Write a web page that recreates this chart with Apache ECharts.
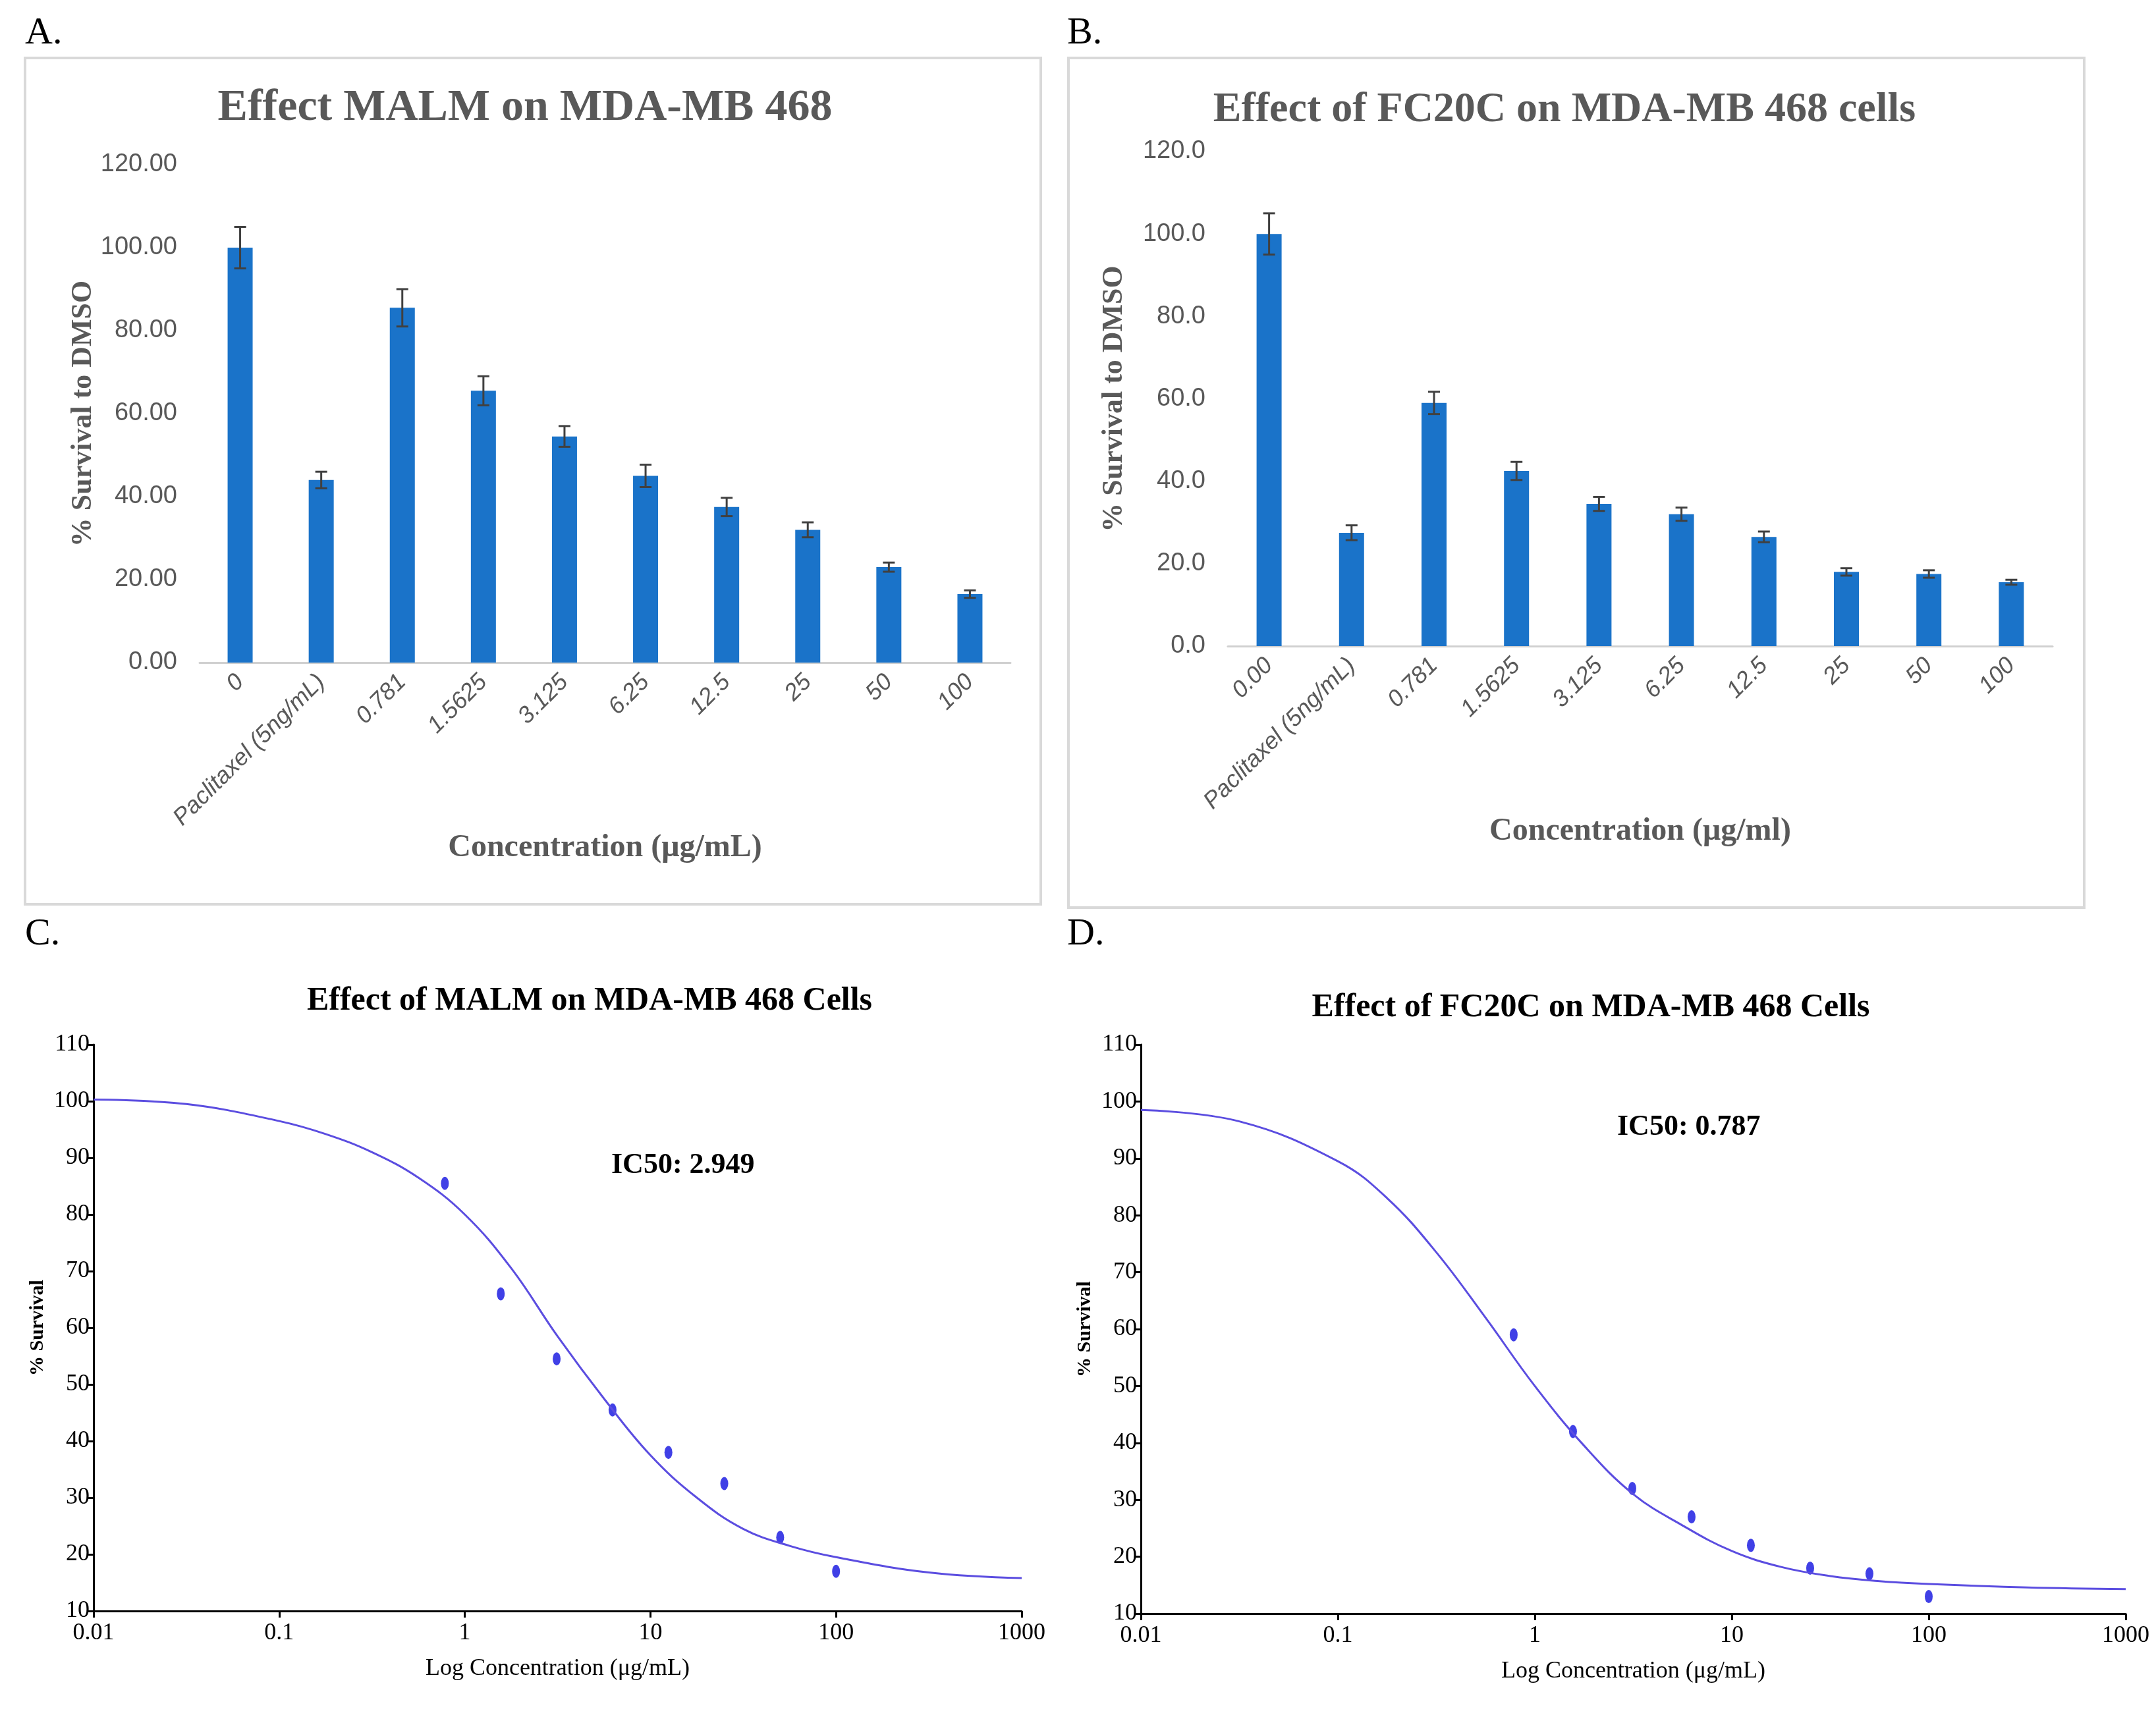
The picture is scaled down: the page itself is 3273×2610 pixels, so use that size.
<!DOCTYPE html>
<html>
<head>
<meta charset="utf-8">
<script src="https://cdn.jsdelivr.net/npm/echarts@6/dist/echarts.min.js"></script>
<style>html,body{margin:0;padding:0;background:#fff}#chart{width:3273px;height:2610px}</style>
</head>
<body>
<div id="chart"></div>
<script>
// bar panels
var catsA = ['0','Paclitaxel (5ng/mL)','0.781','1.5625','3.125','6.25','12.5','25','50','100'];
var catsB = ['0.00','Paclitaxel (5ng/mL)','0.781','1.5625','3.125','6.25','12.5','25','50','100'];
var valsA = [100, 44, 85.5, 65.5, 54.5, 45, 37.5, 32, 23, 16.5];
var errA  = [5, 2, 4.5, 3.5, 2.5, 2.7, 2.2, 1.8, 1.1, 0.9];
var valsB = [100, 27.5, 59, 42.5, 34.5, 32, 26.5, 18, 17.5, 15.5];
var errB  = [5, 1.8, 2.7, 2.2, 1.7, 1.6, 1.3, 0.9, 0.9, 0.6];
// dose-response panels
var conc   = [0.781, 1.5625, 3.125, 6.25, 12.5, 25, 50, 100];
var survC  = [85.5, 66, 54.5, 45.5, 38, 32.5, 23, 17];
var survD  = [59, 42, 32, 27, 22, 18, 17, 13];
var curveX = [0.01, 0.0316, 0.1, 0.178, 0.316, 0.562, 1, 1.78, 3.16, 5.62, 10, 17.8, 31.6, 56.2, 100, 316, 1000];
var curveC = [100.3, 99.5, 96.5, 94.2, 91, 86.5, 80, 70.5, 58.5, 47.5, 37.5, 30, 24.5, 21.5, 19.5, 16.8, 15.8];
var curveD = [98.5, 96.5, 89.5, 83, 73.5, 62, 50, 39.5, 31, 25.5, 21, 18.2, 16.6, 15.7, 15.2, 14.6, 14.3];

var serif = 'Liberation Serif';
var chart = echarts.init(document.getElementById('chart'));

function errSeries(xi, yi, vals, errs) {
  return {
    type: 'custom', xAxisIndex: xi, yAxisIndex: yi, z: 5,
    data: vals.map(function (v, i) { return [i, v - errs[i], v + errs[i]]; }),
    renderItem: function (params, api) {
      var lo = api.coord([api.value(0), api.value(1)]);
      var hi = api.coord([api.value(0), api.value(2)]);
      var w = 9, st = {stroke: '#404040', lineWidth: 3};
      return {type: 'group', children: [
        {type: 'line', shape: {x1: hi[0], y1: hi[1], x2: lo[0], y2: lo[1]}, style: st},
        {type: 'line', shape: {x1: hi[0] - w, y1: hi[1], x2: hi[0] + w, y2: hi[1]}, style: st},
        {type: 'line', shape: {x1: lo[0] - w, y1: lo[1], x2: lo[0] + w, y2: lo[1]}, style: st}
      ]};
    }
  };
}

function catAxis(gi, cats, name) {
  return {type: 'category', gridIndex: gi, data: cats,
    axisLine: {lineStyle: {color: '#d0d0d0', width: 3}}, axisTick: {show: false},
    axisLabel: {rotate: 45, fontSize: 36, color: '#595959', fontStyle: 'italic', fontFamily: 'Liberation Sans', margin: 24},
    name: name, nameLocation: 'middle', nameGap: 255,
    nameTextStyle: {fontSize: 48, fontWeight: 'bold', color: '#595959', fontFamily: serif}};
}
function valAxis(gi, dec, name) {
  return {type: 'value', gridIndex: gi, min: 0, max: 120, interval: 20,
    axisLine: {show: false}, axisTick: {show: false}, splitLine: {show: false},
    axisLabel: {fontSize: 38, color: '#595959', fontFamily: 'Liberation Sans', margin: 34,
      formatter: function (v) { return v.toFixed(dec); }},
    name: name, nameLocation: 'middle', nameGap: 150, nameRotate: 90,
    nameTextStyle: {fontSize: 44, fontWeight: 'bold', color: '#595959', fontFamily: serif}};
}
function logAxis(gi) {
  return {type: 'log', gridIndex: gi, logBase: 10, min: 0.01, max: 1000,
    axisLine: {lineStyle: {color: '#000', width: 3}}, axisTick: {length: 10, lineStyle: {width: 3}},
    splitLine: {show: false}, minorTick: {show: false},
    axisLabel: {fontSize: 36, color: '#000', fontFamily: serif, margin: 16, formatter: function (v) { return String(v); }},
    name: 'Log Concentration (μg/mL)', nameLocation: 'middle', nameGap: 70,
    nameTextStyle: {fontSize: 36, color: '#000', fontFamily: serif}};
}
function survAxis(gi) {
  return {type: 'value', gridIndex: gi, min: 10, max: 110, interval: 10,
    axisLine: {show: true, lineStyle: {color: '#000', width: 3}}, axisTick: {show: true, length: 10, lineStyle: {width: 3}},
    splitLine: {show: false},
    axisLabel: {fontSize: 36, color: '#000', fontFamily: serif, margin: 6},
    name: '% Survival', nameLocation: 'middle', nameGap: 70, nameRotate: 90,
    nameTextStyle: {fontSize: 30, fontWeight: 'bold', color: '#000', fontFamily: serif}};
}

var bar = {color: '#1a73c9'};
var dot = {color: '#1010e0'};
chart.setOption({
  backgroundColor: '#fff',
  animation: false,
  title: [
    {text: 'Effect MALM on MDA-MB 468', left: 792, top: 125, textAlign: 'center',
      textStyle: {fontSize: 68, fontWeight: 'bold', color: '#595959', fontFamily: serif}},
    {text: 'Effect of FC20C on MDA-MB 468 cells', left: 2370, top: 130, textAlign: 'center',
      textStyle: {fontSize: 64, fontWeight: 'bold', color: '#595959', fontFamily: serif}},
    {text: 'Effect of MALM on MDA-MB 468 Cells', left: 890, top: 1490, textAlign: 'center',
      textStyle: {fontSize: 50, fontWeight: 'bold', color: '#000', fontFamily: serif}},
    {text: 'Effect of FC20C on MDA-MB 468 Cells', left: 2410, top: 1500, textAlign: 'center',
      textStyle: {fontSize: 50, fontWeight: 'bold', color: '#000', fontFamily: serif}}
  ],
  graphic: [
    {type: 'rect', shape: {x: 38, y: 88, width: 1542, height: 1285}, style: {fill: 'none', stroke: '#d9d9d9', lineWidth: 4}},
    {type: 'rect', shape: {x: 1622, y: 88, width: 1542, height: 1290}, style: {fill: 'none', stroke: '#d9d9d9', lineWidth: 4}},
    {type: 'text', x: 38, y: 22, style: {text: 'A.', fontSize: 58, fontFamily: serif, fill: '#000'}},
    {type: 'text', x: 1620, y: 22, style: {text: 'B.', fontSize: 58, fontFamily: serif, fill: '#000'}},
    {type: 'text', x: 38, y: 1390, style: {text: 'C.', fontSize: 58, fontFamily: serif, fill: '#000'}},
    {type: 'text', x: 1620, y: 1390, style: {text: 'D.', fontSize: 58, fontFamily: serif, fill: '#000'}},
    {type: 'text', x: 928, y: 1748, style: {text: 'IC50: 2.949', fontSize: 44, fontWeight: 'bold', fontFamily: serif, fill: '#000'}},
    {type: 'text', x: 2455, y: 1690, style: {text: 'IC50: 0.787', fontSize: 44, fontWeight: 'bold', fontFamily: serif, fill: '#000'}}
  ],
  grid: [
    {left: 303, top: 250, width: 1231, height: 756},
    {left: 1864, top: 230, width: 1252, height: 751},
    {left: 142, top: 1586, width: 1409, height: 860},
    {left: 1732, top: 1586, width: 1495, height: 864}
  ],
  xAxis: [catAxis(0, catsA, 'Concentration (μg/mL)'), catAxis(1, catsB, 'Concentration (μg/ml)'), logAxis(2), logAxis(3)],
  yAxis: [valAxis(0, 2, '% Survival to DMSO'), valAxis(1, 1, '% Survival to DMSO'), survAxis(2), survAxis(3)],
  series: [
    {type: 'bar', xAxisIndex: 0, yAxisIndex: 0, data: valsA, barWidth: 38, itemStyle: bar},
    errSeries(0, 0, valsA, errA),
    {type: 'bar', xAxisIndex: 1, yAxisIndex: 1, data: valsB, barWidth: 38, itemStyle: bar},
    errSeries(1, 1, valsB, errB),
    {type: 'line', xAxisIndex: 2, yAxisIndex: 2, smooth: 0.4, showSymbol: false,
      data: curveX.map(function (x, i) { return [x, curveC[i]]; }), lineStyle: {color: '#5b4de0', width: 3}},
    {type: 'scatter', xAxisIndex: 2, yAxisIndex: 2, symbol: 'circle', symbolSize: [12, 20],
      data: conc.map(function (x, i) { return [x, survC[i]]; }), itemStyle: dot},
    {type: 'line', xAxisIndex: 3, yAxisIndex: 3, smooth: 0.4, showSymbol: false,
      data: curveX.map(function (x, i) { return [x, curveD[i]]; }), lineStyle: {color: '#5b4de0', width: 3}},
    {type: 'scatter', xAxisIndex: 3, yAxisIndex: 3, symbol: 'circle', symbolSize: [12, 20],
      data: conc.map(function (x, i) { return [x, survD[i]]; }), itemStyle: dot}
  ]
});
</script>
</body>
</html>
